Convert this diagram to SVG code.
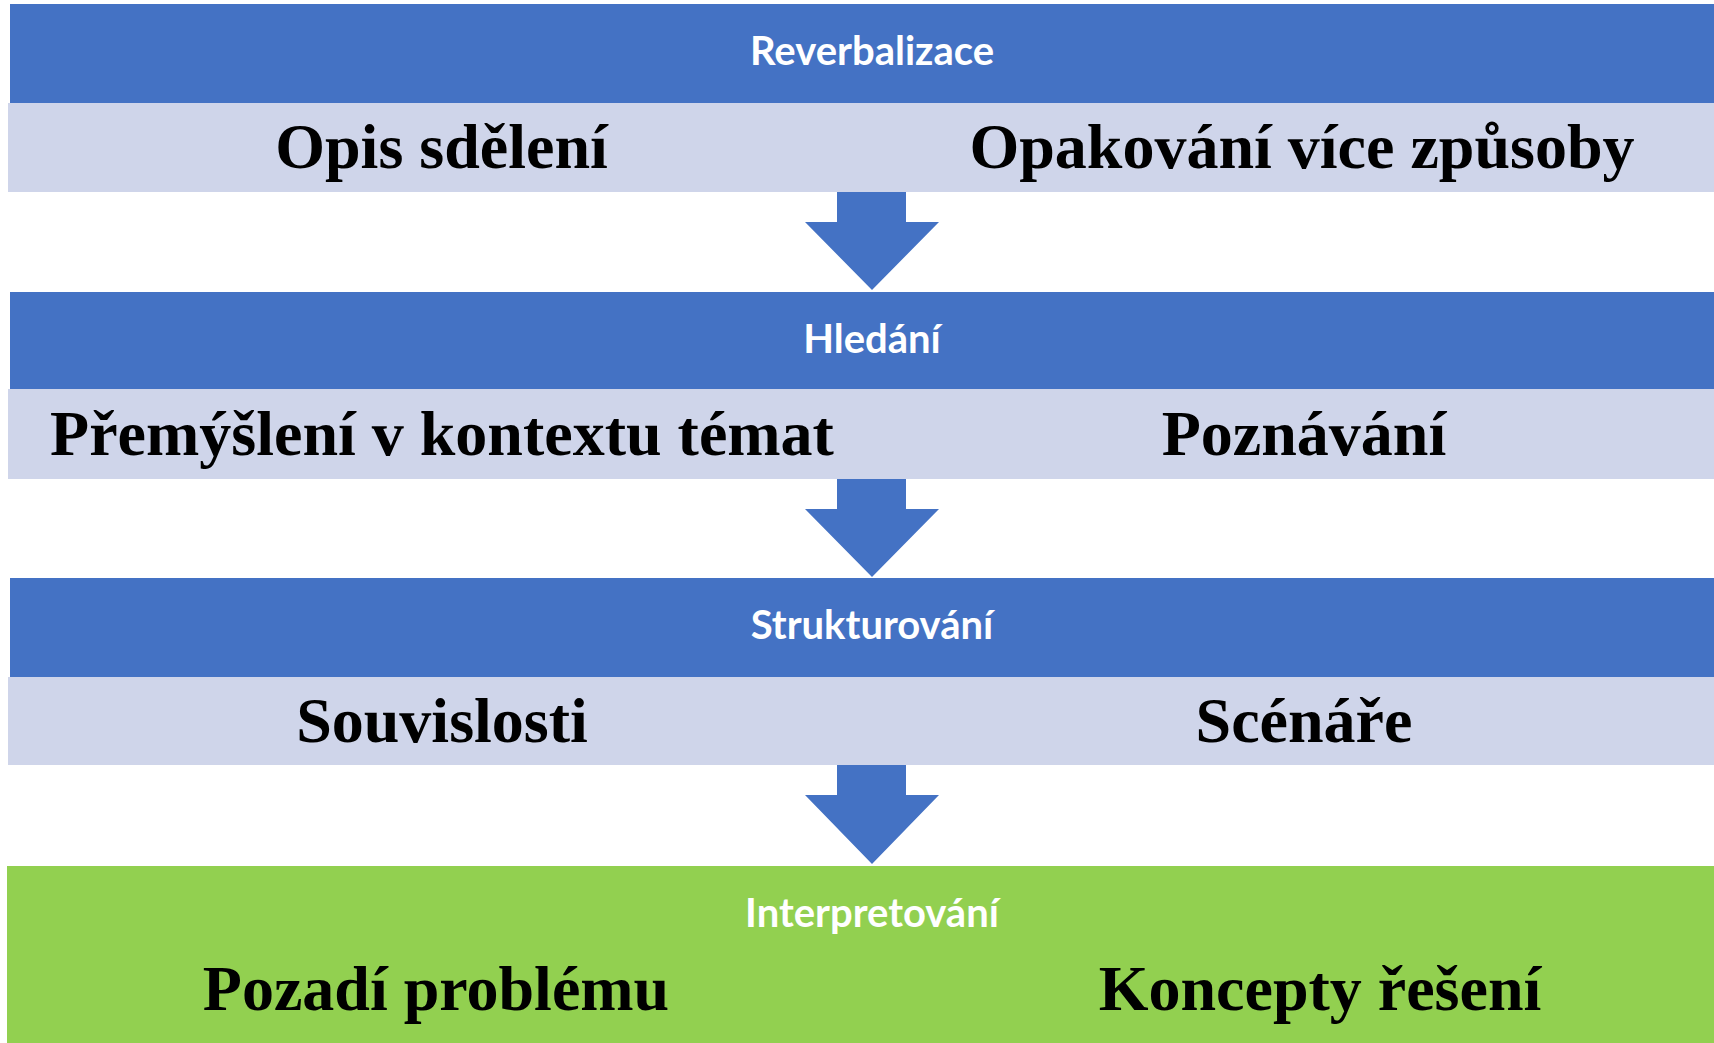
<svg xmlns="http://www.w3.org/2000/svg" width="1714" height="1043" viewBox="0 0 1714 1043">
<style>
.hdr{fill:#4472C4}
.sub{fill:#CFD5EA}
.grn{fill:#92D050}
.ht{font-family:Lato,"Open Sans",sans-serif;font-weight:bold;font-size:40px;fill:#FFFFFF;text-anchor:middle}
.bt{font-family:"Liberation Serif","Times New Roman",serif;font-weight:bold;font-size:64px;fill:#000000;text-anchor:middle}
.arr{fill:#4472C4}
</style>
<rect width="1714" height="1043" fill="#FFFFFF"/>
<g id="stage-reverbalizace">
<rect class="hdr" x="10" y="4" width="1704" height="99"/>
<rect class="sub" x="8" y="103" width="1706" height="89"/>
<text class="ht" x="872" y="65">Reverbalizace</text>
<text class="bt" x="441.5" y="168">Opis sdělení</text>
<text class="bt" x="1302" y="168">Opakování více způsoby</text>
</g>
<g id="stage-hledani">
<rect class="hdr" x="10" y="292" width="1704" height="97"/>
<rect class="sub" x="8" y="389" width="1706" height="90"/>
<text class="ht" x="872" y="353">Hledání</text>
<text class="bt" x="442" y="455">Přemýšlení v kontextu témat</text>
<text class="bt" x="1304" y="455">Poznávání</text>
</g>
<g id="stage-strukturovani">
<rect class="hdr" x="10" y="578" width="1704" height="99"/>
<rect class="sub" x="8" y="677" width="1706" height="88"/>
<text class="ht" x="872" y="639">Strukturování</text>
<text class="bt" x="442" y="742">Souvislosti</text>
<text class="bt" x="1304" y="742">Scénáře</text>
</g>
<g id="stage-interpretovani">
<rect class="grn" x="7" y="866" width="1707" height="177"/>
<text class="ht" x="872" y="927">Interpretování</text>
<text class="bt" x="436" y="1010">Pozadí problému</text>
<text class="bt" x="1320" y="1010">Koncepty řešení</text>
</g>
<g id="connectors">
<polygon class="arr" points="837,192 906,192 906,222 939,222 872,290 805,222 837,222"/>
<polygon class="arr" points="837,479 906,479 906,509 939,509 872,577 805,509 837,509"/>
<polygon class="arr" points="837,765 906,765 906,795 939,795 872,864 805,795 837,795"/>
</g>
</svg>
